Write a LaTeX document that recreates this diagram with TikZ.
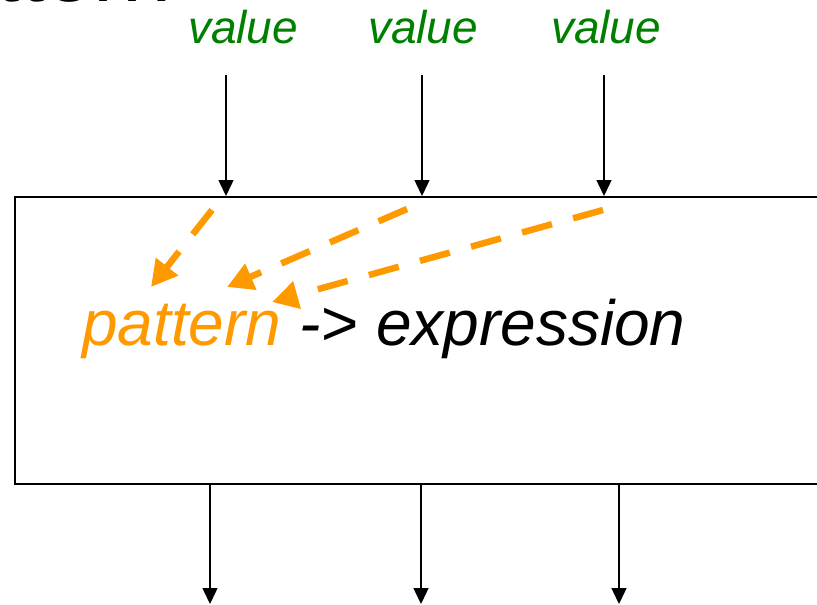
\documentclass[tikz,border=0pt]{standalone}
\usepackage{fontspec}
\setmainfont{Liberation Sans}
\usetikzlibrary{arrows.meta,positioning}
\definecolor{valgreen}{RGB}{0,128,0}
\definecolor{patorange}{RGB}{255,153,0}

\begin{document}
\begin{tikzpicture}[
    x=1pt, y=-1pt,
    box/.style={draw, line width=1.6pt, minimum width=840pt, minimum height=287pt,
                anchor=north west, inner sep=0pt},
    val/.style={text=valgreen, font=\fontsize{46}{50}\selectfont\itshape,
                inner sep=0pt, anchor=base},
    rule/.style={font=\fontsize{64}{70}\selectfont\itshape, inner sep=0pt, anchor=base west},
    arrow/.style={-{Triangle[length=16pt,width=15pt]}, line width=1.5pt},
    bind/.style={-{Triangle[length=26pt,width=27pt]}, patorange, line width=6.5pt,
                 dash pattern=on 31pt off 22pt},
  ]
    \useasboundingbox (0,0) rectangle (817,605);

    % title, cut off by the top edge
    \node[anchor=base east, inner sep=0pt, font=\fontsize{88}{90}\selectfont] (title) at (172,1.5) {Pattern};

    \node[box] (fn) at (14,196) {};

    \node[val] (v1) at (243,43) {value};
    \node[val] (v2) at (423,43) {value};
    \node[val] (v3) at (606,43) {value};

    \node[rule, text=patorange] (pat) at (82,345) {pattern};
    \node[rule] (expr) at (pat.base east) {\ -> expression};

    \coordinate (in1) at (226,75);
    \coordinate (in2) at (422,75);
    \coordinate (in3) at (604,75);
    \draw[arrow] (in1) -- (in1 |- fn.north);
    \draw[arrow] (in2) -- (in2 |- fn.north);
    \draw[arrow] (in3) -- (in3 |- fn.north);

    \coordinate (out1) at (210,604);
    \coordinate (out2) at (421,604);
    \coordinate (out3) at (619,604);
    \draw[arrow] (out1 |- fn.south) -- (out1);
    \draw[arrow] (out2 |- fn.south) -- (out2);
    \draw[arrow] (out3 |- fn.south) -- (out3);

    % values bound into the pattern
    \coordinate (s1) at (212,210);
    \coordinate (s2) at (407,209);
    \coordinate (s3) at (603,210);
    \coordinate (t1) at (151,287);
    \coordinate (t2) at (227,287);
    \coordinate (t3) at (272,302);
    \draw[bind] (s1) -- (t1);
    \draw[bind] (s2) -- (t2);
    \draw[bind] (s3) -- (t3);
\end{tikzpicture}
\end{document}
